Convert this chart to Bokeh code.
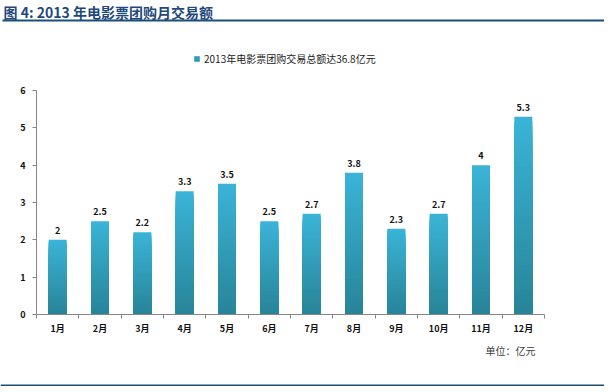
from bokeh.plotting import figure
from bokeh.models import (Range1d, FixedTicker, ColumnDataSource, Label, BoxAnnotation,
                          Legend, LegendItem)
from bokeh.core.properties import value
from bokeh.embed import file_html
from bokeh.resources import INLINE

# ---- data ----
months = ["1月", "2月", "3月", "4月", "5月", "6月", "7月", "8月", "9月", "10月", "11月", "12月"]
amounts = [2.0, 2.5, 2.2, 3.3, 3.5, 2.5, 2.7, 3.8, 2.3, 2.7, 4.0, 5.3]
y_ticks = [0, 1, 2, 3, 4, 5, 6]
series_name = "2013年电影票团购交易总额达36.8亿元"
title_text = "图 4:  2013 年电影票团购月交易额"
unit_text = "单位：亿元"

FONT = "Noto Sans CJK SC"
TOP_C = (58, 180, 215)
BOT_C = (40, 132, 152)
RULE_C = "#1B4E78"
NSLICE = 40

# canvas geometry (pixels): plot area from x=36..544, y=90 (value 6) .. 314 (value 0)
W, H = 604, 386
X0, X1 = 36.0, 544.0
Y6, Y0 = 90.0, 314.0
n = len(months)
ppx = (X1 - X0) / n
ppy = (Y0 - Y6) / 6.0

p = figure(width=W, height=H, output_backend="svg", toolbar_location=None,
           x_range=Range1d(-X0 / ppx, n + (W - X1) / ppx),
           y_range=Range1d(-(H - Y0) / ppy, 6 + Y6 / ppy),
           min_border=0, min_border_left=0, min_border_right=0,
           min_border_top=0, min_border_bottom=0)
p.outline_line_color = None
p.xgrid.grid_line_color = None
p.ygrid.grid_line_color = None

# gradient bars: overlapping bars from the base, tallest (lightest) drawn first
xs, bots, tops, cols = [], [], [], []
for i, v in enumerate(amounts):
    for k in range(NSLICE - 1, -1, -1):
        t = (k + 0.5) / NSLICE
        c = tuple(int(round(BOT_C[j] + (TOP_C[j] - BOT_C[j]) * t)) for j in range(3))
        xs.append(i + 0.5)
        bots.append(0)
        tops.append(v * (k + 1) / NSLICE)
        cols.append("#%02x%02x%02x" % c)
src = ColumnDataSource(dict(x=xs, bottom=bots, top=tops, color=cols))
r = p.vbar(x="x", bottom="bottom", top="top", width=0.425, fill_color="color",
           line_color=None, source=src)

# value labels
lab_src = ColumnDataSource(dict(x=[i + 0.5 for i in range(n)], y=amounts,
                                t=[f"{v:g}" for v in amounts]))
p.text(x="x", y="y", text="t", source=lab_src, text_align="center", text_baseline="bottom",
       y_offset=-6, text_font=value(FONT), text_font_style="bold", text_font_size="9px",
       text_color="#111111")

# axes (placed at the data origin)
ax = p.xaxis[0]
ax.fixed_location = 0
ax.bounds = (0, n)
ax.ticker = FixedTicker(ticks=[i + 0.5 for i in range(n)], minor_ticks=list(range(n + 1)))
ax.major_label_overrides = {i + 0.5: m for i, m in enumerate(months)}
ax.major_tick_out = 0
ax.major_tick_in = 0
ax.minor_tick_out = 4
ax.minor_tick_in = 0
ax.axis_line_color = "#868686"
ax.minor_tick_line_color = "#868686"
ax.major_label_text_font = FONT
ax.major_label_text_font_style = "bold"
ax.major_label_text_font_size = "9px"
ax.major_label_text_color = "#111111"
ax.major_label_standoff = 3

ay = p.yaxis[0]
ay.fixed_location = 0
ay.bounds = (0, 6)
ay.ticker = FixedTicker(ticks=y_ticks, minor_ticks=[])
ay.major_tick_out = 4
ay.major_tick_in = 0
ay.minor_tick_out = 0
ay.minor_tick_in = 0
ay.axis_line_color = "#868686"
ay.major_tick_line_color = "#868686"
ay.major_label_text_font = FONT
ay.major_label_text_font_style = "bold"
ay.major_label_text_font_size = "9px"
ay.major_label_text_color = "#111111"
ay.major_label_standoff = 7

# legend
legend = Legend(items=[LegendItem(label=series_name, renderers=[r], index=NSLICE // 2)],
                location=(193, H - 66), orientation="horizontal",
                border_line_color=None, background_fill_alpha=0,
                padding=0, margin=0, spacing=0,
                glyph_width=7, glyph_height=7, label_height=12, label_standoff=4,
                label_text_font=FONT, label_text_font_size="10px", label_text_color="#1a1a1a")
p.add_layout(legend, "center")

# title, unit note and rules (screen units, origin bottom-left)
p.add_layout(Label(x=3, y=H - 11, x_units="screen", y_units="screen", text=title_text,
                   text_font=FONT, text_font_style="bold", text_font_size="14px",
                   text_color="#1F497D", text_baseline="middle"))
p.add_layout(BoxAnnotation(left=2, right=W, top=H - 19, bottom=H - 21,
                           left_units="screen", right_units="screen",
                           top_units="screen", bottom_units="screen",
                           fill_color=RULE_C, fill_alpha=1, line_color=None))
p.add_layout(BoxAnnotation(left=0, right=W, top=2, bottom=0,
                           left_units="screen", right_units="screen",
                           top_units="screen", bottom_units="screen",
                           fill_color=RULE_C, fill_alpha=1, line_color=None))
p.add_layout(Label(x=485, y=H - 350, x_units="screen", y_units="screen", text=unit_text,
                   text_font=FONT, text_font_size="10px", text_color="#404040",
                   text_baseline="middle"))

open("out.html", "w").write(file_html(p, INLINE))
